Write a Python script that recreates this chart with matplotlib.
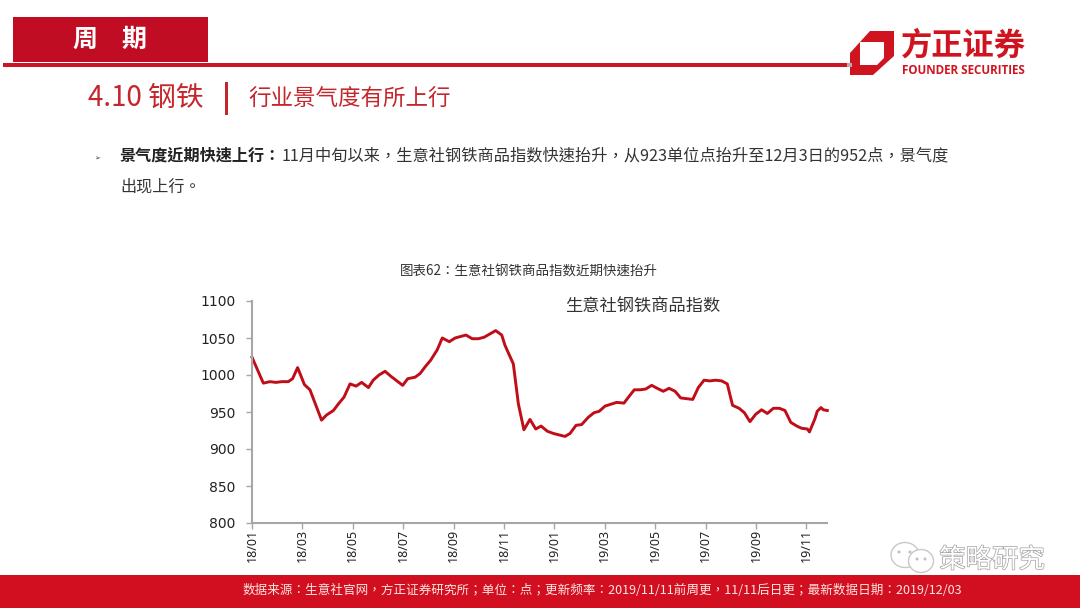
#!/usr/bin/env python
"""Slide with the steel commodity index line chart"""
import matplotlib
matplotlib.use('Agg')
import matplotlib.pyplot as plt
import matplotlib.patheffects as pe
from matplotlib.patches import Rectangle, Polygon, Ellipse

plt.rcParams['font.family'] = ['Noto Sans CJK SC', 'DejaVu Sans']

# month position since 18/01 and index value
months = [0, .45, .71, .95, 1.18, 1.44, 1.61, 1.81, 2.08, 2.30, 2.76, 2.96, 3.23, 3.43, 3.65,
          3.89, 4.13, 4.35, 4.62, 4.81, 5.04, 5.28, 5.52, 5.98, 6.18, 6.47, 6.67, 6.87, 7.09,
          7.35, 7.55, 7.83, 8.06, 8.49, 8.74, 8.98, 9.21, 9.67, 9.91, 10.04, 10.37, 10.57,
          10.79, 11.03, 11.26, 11.47, 11.72, 11.96, 12.42, 12.62, 12.86, 13.08, 13.35, 13.57,
          13.78, 14.01, 14.47, 14.76, 14.96, 15.17, 15.40, 15.62, 15.86, 16.08, 16.32, 16.55,
          16.79, 17.01, 17.49, 17.71, 17.94, 18.17, 18.40, 18.64, 18.86, 19.07, 19.33, 19.54,
          19.76, 19.99, 20.22, 20.45, 20.69, 20.93, 21.15, 21.38, 21.62, 21.81, 22.04, 22.12,
          22.34, 22.43, 22.58, 22.67, 22.83]
index_values = [1024, 989, 991, 990, 991, 991, 995, 1010, 987, 980, 939, 946, 952, 961, 970,
                988, 985, 990, 983, 993, 1000, 1005, 998, 986, 995, 997, 1002, 1011, 1020,
                1034, 1050, 1045, 1050, 1054, 1049, 1049, 1051, 1060, 1054, 1040, 1015, 961,
                926, 940, 927, 931, 924, 921, 917, 921, 932, 933, 943, 949,
                951, 958, 963, 962, 971, 980, 980, 981, 986, 982, 978, 982,
                978, 969, 967, 983, 993, 992, 993, 992, 988, 959, 955, 949,
                937, 947, 953, 948, 955, 955, 952, 936, 931, 928, 927, 923,
                941, 951, 956, 953, 952]
tick_months = list(range(0, 24, 2))
tick_labels = ['18/01', '18/03', '18/05', '18/07', '18/09', '18/11',
               '19/01', '19/03', '19/05', '19/07', '19/09', '19/11']
y_ticks = [800, 850, 900, 950, 1000, 1050, 1100]

red = '#c00d23'
logo_red = '#d0141f'
title_red = '#c5262b'
dark = '#333333'
tc = ['Noto Sans CJK TC', 'DejaVu Sans']

fig = plt.figure(figsize=(10.8, 6.08), dpi=100, facecolor='white')

# %% slide background in pixel coordinates
bg = fig.add_axes([0, 0, 1, 1])
bg.set_xlim(0, 1080)
bg.set_ylim(608, 0)
bg.axis('off')

bg.add_patch(Rectangle((13, 17), 195, 45, color=red, lw=0))
bg.add_patch(Rectangle((3, 63), 847, 4, color='#cc1424', lw=0))
bg.text(85, 40, '周', color='white', fontsize=18, fontweight='bold', ha='center', va='center')
bg.text(134, 40, '期', color='white', fontsize=18, fontweight='bold', ha='center', va='center')

# logo
bg.add_patch(Polygon([(850, 53), (870, 31), (894, 31), (894, 56), (873, 75), (850, 75)],
                     closed=True, color=logo_red, lw=0))
bg.add_patch(Polygon([(860, 42), (884, 42), (884, 58), (877, 65), (860, 65)],
                     closed=True, color='white', lw=0))
bg.add_patch(Rectangle((847, 63), 5, 4, color='#b0b0b0', lw=0))
bg.text(963, 46, '方正证券', color=logo_red, fontsize=22.5, fontweight='bold', ha='center', va='center')
bg.text(963, 70.5, 'FOUNDER SECURITIES', color=logo_red, fontsize=8.4, fontweight='bold',
        ha='center', va='center', family='Open Sans')

# section heading
bg.text(88, 98, '4.10 钢铁', color=title_red, fontsize=20, ha='left', va='center')
bg.add_patch(Rectangle((224.5, 82), 3, 33, color=title_red, lw=0))
bg.text(248, 99, '行业景气度有所上行', color=title_red, fontsize=16.2, ha='left', va='center')

# body text
bg.text(97, 159, '➢', color=dark, fontsize=5, ha='center', va='center', family='DejaVu Sans')
bg.text(120, 156, '景气度近期快速上行：', color='#222222', fontsize=11.6, fontweight='bold',
        ha='left', va='center', family=tc)
bg.text(282, 156, '11月中旬以来，生意社钢铁商品指数快速抬升，从923单位点抬升至12月3日的952点，景气度',
        color=dark, fontsize=11.67, ha='left', va='center', family=tc)
bg.text(120, 187, '出现上行。', color=dark, fontsize=11.6, ha='left', va='center', family=tc)

bg.text(529, 272, '图表62：生意社钢铁商品指数近期快速抬升', color=dark, fontsize=9.7,
        ha='center', va='center', family=tc)

# footer
bg.add_patch(Rectangle((0, 575), 1080, 33, color='#d20f20', lw=0))
bg.text(602, 591, '数据来源：生意社官网，方正证券研究所；单位：点；更新频率：2019/11/11前周更，11/11后日更；最新数据日期：2019/12/03',
        color='#ffe6e0', fontsize=9.05, ha='center', va='center', family=tc)

# watermark
for xy, w, h in [((905, 555), 28, 25), ((921, 561), 25, 23)]:
    bg.add_patch(Ellipse(xy, w, h, fc='white', ec='#c8c8c8', lw=1))
for eye_x, eye_y in [(899, 552), (910, 552), (917, 559), (925, 559)]:
    bg.add_patch(Ellipse((eye_x, eye_y), 3, 3, fc='#c0c0c0', lw=0))
bg.text(992, 560, '策略研究', color='white', fontsize=19, ha='center', va='center',
        path_effects=[pe.withStroke(linewidth=1, foreground='#a0a0a0')])

# %% chart
ax = fig.add_axes([252 / 1080, 1 - 523 / 608, 575 / 1080, 222 / 608])
ax.patch.set_alpha(0)
ax.plot(months, index_values, color='#c00d17', lw=2.1, solid_joinstyle='round', clip_on=False)
ax.set_xlim(0, 575 / 25.2)
ax.set_ylim(800, 1100)
ax.set_yticks(y_ticks)
ax.set_yticklabels([str(v) for v in y_ticks], family='DejaVu Sans', fontsize=10, color='#222222')
ax.set_xticks(tick_months)
ax.set_xticklabels(tick_labels, rotation=90, fontsize=9, family='Noto Sans', color='#222222')
ax.tick_params(axis='y', length=4, width=1, color='#a6a6a6', pad=8)
ax.tick_params(axis='x', length=4, width=1, color='#a6a6a6', pad=0.5)
for side in ['top', 'right']:
    ax.spines[side].set_visible(False)
for side in ['left', 'bottom']:
    ax.spines[side].set_color('#a6a6a6')
    ax.spines[side].set_linewidth(1.5)
ax.text(642.5, 307, '生意社钢铁商品指数', color=dark, fontsize=12.4, ha='center', va='center',
        transform=bg.transData)

fig.savefig('out.png', dpi=100)
